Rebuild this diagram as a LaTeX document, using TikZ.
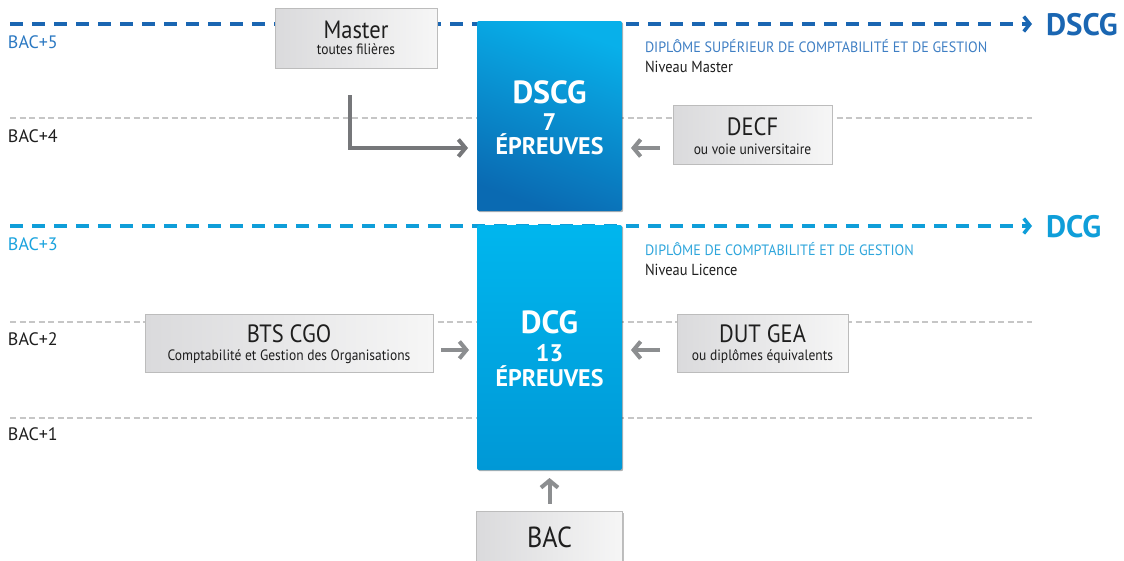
\documentclass[tikz,border=0pt]{standalone}
\usepackage{fontspec}
\setmainfont{PT Sans}
\newfontfamily\nfont[FakeStretch=0.9]{PT Sans}
\newfontfamily\dfont[FakeStretch=0.94]{PT Sans}
\usetikzlibrary{arrows.meta,shadows}
\definecolor{dblue}{HTML}{1A66B2}
\definecolor{cblue}{HTML}{0F9ED9}
\definecolor{lvl5}{HTML}{2A78C2}
\definecolor{lvl3}{HTML}{1AA3DE}
\definecolor{gline}{HTML}{C6C6C6}
\definecolor{garrow}{HTML}{8C8E90}
\definecolor{marrow}{HTML}{76777A}
\definecolor{boxline}{HTML}{BCBCBC}
\definecolor{boxl}{HTML}{DADADC}
\definecolor{boxr}{HTML}{F6F6F6}
\definecolor{txt}{HTML}{1E1E1E}
\definecolor{dscgtop}{HTML}{08B0EA}
\definecolor{dscgbot}{HTML}{0A6AB2}
\definecolor{dcgtop}{HTML}{00B6EE}
\definecolor{dcgbot}{HTML}{0098D6}
\definecolor{dipl5}{HTML}{3F7FC4}
\definecolor{dipl3}{HTML}{2FA6DC}
\begin{document}
\begin{tikzpicture}[x=1pt,y=-1pt,
  every node/.style={inner sep=0pt,outer sep=0pt},
  level/.style={anchor=base west,font=\fontsize{18}{18}\selectfont},
  bluedash/.style={line width=4pt,dash pattern=on 13pt off 9pt,
    -{Straight Barb[length=6pt,width=15pt,line width=3.5pt]},shorten >=14pt},
  greydash/.style={draw=gline,line width=2pt,dash pattern=on 6pt off 3.5pt},
  greybox/.style={draw=boxline,line width=0.8pt,left color=boxl,right color=boxr,
    drop shadow={shadow xshift=1.2pt,shadow yshift=-1.2pt,opacity=0.25,fill=black}},
  bluebox/.style={rounded corners=2pt,
    drop shadow={shadow xshift=1.2pt,shadow yshift=-1.2pt,opacity=0.3,fill=black}},
  maintxt/.style={anchor=base,text=txt,font=\nfont\fontsize{25}{25}\selectfont},
  subtxt/.style={anchor=base,text=txt,font=\nfont\fontsize{15}{15}\selectfont},
  bigw/.style={anchor=base,text=white,font=\bfseries\fontsize{32}{32}\selectfont},
  midw/.style={anchor=base,text=white,font=\bfseries\fontsize{24}{24}\selectfont},
  diplo/.style={anchor=base west,font=\dfont\fontsize{15}{15}\selectfont},
  niveau/.style={anchor=base west,text=txt,font=\nfont\fontsize{16}{16}\selectfont},
  biglab/.style={anchor=base west,font=\bfseries\fontsize{31}{31}\selectfont},
  arr/.style={draw=garrow,line width=4pt,-{Straight Barb[length=7pt,width=17pt,line width=4pt]}},
]
\path[clip] (0,0) rectangle (1124,560);
\fill[white] (0,0) rectangle (1124,560);

% level labels
\node[level,text=lvl5] (b5) at (8,48) {BAC+5};
\node[level,text=txt] (b4) at (8,142) {BAC+4};
\node[level,text=lvl3] (b3) at (8,250) {BAC+3};
\node[level,text=txt] (b2) at (8,345) {BAC+2};
\node[level,text=txt] (b1) at (8,440) {BAC+1};

% right labels
\node[biglab,text=dblue] (lab5) at (1046,35) {DSCG};
\node[biglab,text=cblue] (lab3) at (1046,237) {DCG};

% grey dashed lines
\coordinate (g4s) at (10,118); \coordinate (g4e) at (1032,118);
\coordinate (g2s) at (10,322); \coordinate (g2e) at (1032,322);
\coordinate (g1s) at (10,418); \coordinate (g1e) at (1032,418);
\draw[greydash] (g4s) -- (g4e);
\draw[greydash] (g2s) -- (g2e);
\draw[greydash] (g1s) -- (g1e);

% blue dashed lines
\coordinate (s5) at (10,24);
\coordinate (s3) at (10,226);
\draw[bluedash,draw=dblue] (s5) -- (s5 -| lab5.west);
\draw[bluedash,draw=cblue] (s3) -- (s3 -| lab3.west);

% blue boxes
\node[bluebox,minimum width=145pt,minimum height=190pt,top color=dscgtop,bottom color=dscgbot,shading angle=-20] (dscg) at (549.5,116) {};
\node[bluebox,minimum width=145pt,minimum height=245pt,top color=dcgtop,bottom color=dcgbot] (dcg) at (549.5,347.5) {};

\node[bigw] (t1) at (549.5,103) {DSCG};
\node[midw] (t2) at (549.5,130) {7};
\node[midw] (t3) at (549.5,154) {ÉPREUVES};
\node[bigw] (u1) at (549.5,333) {DCG};
\node[midw] (u2) at (549.5,361) {13};
\node[midw] (u3) at (549.5,386) {ÉPREUVES};

% grey boxes
\node[greybox,minimum width=162pt,minimum height=60pt] (master) at (356,38) {};
\node[maintxt] (mt) at (356,38) {Master};
\node[subtxt] (ms) at (356,54) {toutes filières};

\node[greybox,minimum width=159pt,minimum height=59pt] (decf) at (752.5,134.5) {};
\node[maintxt] (dt) at (752.5,135) {DECF};
\node[subtxt] (ds) at (752.5,154) {ou voie universitaire};

\node[greybox,minimum width=288pt,minimum height=58pt] (bts) at (289,343) {};
\node[maintxt] (bt) at (289,342) {BTS CGO};
\node[subtxt] (bs) at (289,360) {Comptabilité et Gestion des Organisations};

\node[greybox,minimum width=171pt,minimum height=58pt] (dut) at (762.5,343) {};
\node[maintxt] (ut) at (762.5,342) {DUT GEA};
\node[subtxt] (us) at (762.5,360) {ou diplômes équivalents};

\node[greybox,minimum width=146pt,minimum height=52pt] (bac) at (549.5,537.5) {};
\node[maintxt,font=\nfont\fontsize{29}{29}\selectfont] (bact) at (549.5,547) {BAC};

% descriptions
\node[diplo,text=dipl5] (d5) at (645,52) {DIPLÔME SUPÉRIEUR DE COMPTABILITÉ ET DE GESTION};
\node[niveau] (n5) at (645,72) {Niveau Master};
\node[diplo,text=dipl3] (d3) at (645,255) {DIPLÔME DE COMPTABILITÉ ET DE GESTION};
\node[niveau] (n3) at (645,275) {Niveau Licence};

% arrows
\coordinate (m1) at (350,95);
\coordinate (m2) at (468,148);
\draw[arr,draw=marrow] (m1) |- (m2);
\coordinate (e1) at (660,148); \coordinate (e2) at (631,148);
\draw[arr] (e1) -- (e2);
\coordinate (f1) at (441,350); \coordinate (f2) at (469,350);
\draw[arr] (f1) -- (f2);
\coordinate (h1) at (660,350); \coordinate (h2) at (631,350);
\draw[arr] (h1) -- (h2);
\draw[arr] (bac.north) ++(0,-8) coordinate (k1) -- ([yshift=-8pt]dcg.south);
\end{tikzpicture}
\end{document}
